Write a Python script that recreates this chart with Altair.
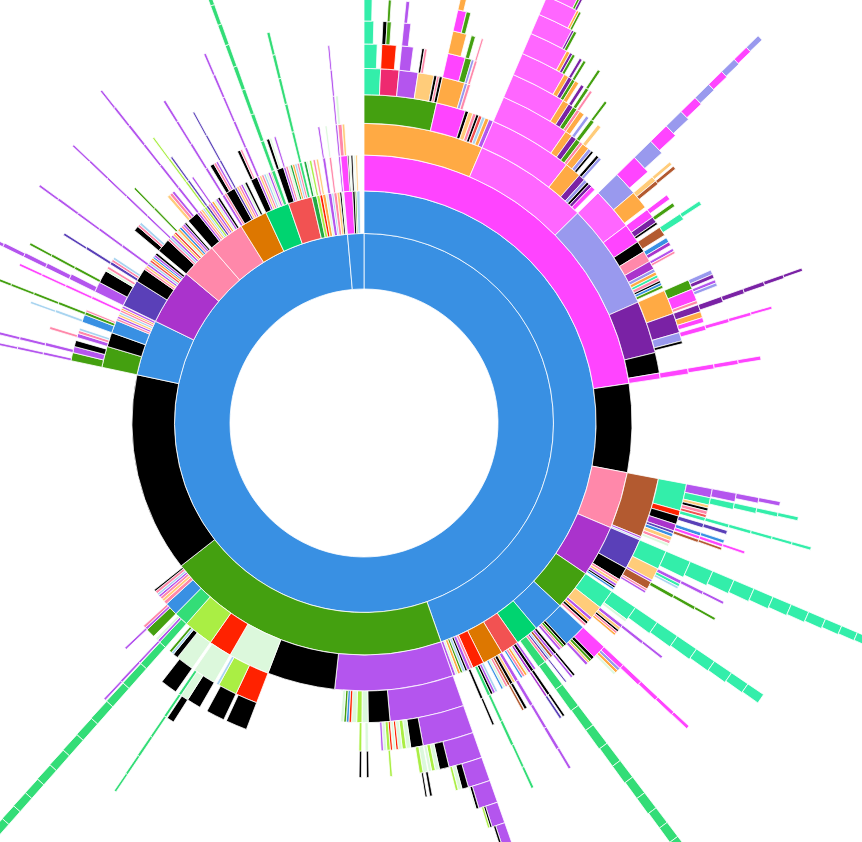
import altair as alt
import pandas as pd

# ---------------- colour categories ----------------
KINDS = ["blue", "magenta", "ltmag", "orange", "green", "black", "pink", "purple",
         "lavender", "dkpurple", "brown", "teal", "lilac", "ltgreen", "red", "ygreen",
         "sgreen", "obrown", "mgreen", "salmon", "indigo", "ltorange", "crimson",
         "ltblue", "dgreen"]
COLORS = ["#3990e3", "#ff44ff", "#ff66ff", "#ffaa44", "#44a010", "#000000", "#ff88aa", "#aa33cc",
          "#9999ee", "#7a22a5", "#b35a30", "#33eeaa", "#b455ee", "#dcf8dc", "#ff2200", "#aaee44",
          "#33dd77", "#dd7700", "#00d470", "#f25252", "#5a40b8", "#ffcc7a", "#ee2a70",
          "#a8d4f0", "#22aa44"]

# ---------------- long spikes (inner ring -> outer ring), size in degrees ----------------
teal_top = [("teal", 2.7), ("teal", 2.0), ("teal", 1.4), ("teal", 1.1), ("teal", 0.9), ("teal", 0.8)]
lav_spike = [("lavender", 4.0), ("magenta", 3.0), ("lavender", 2.3), ("magenta", 1.8), ("lavender", 1.4),
             ("magenta", 1.1), ("lavender", 0.95), ("magenta", 0.85), ("lavender", 0.75), ("magenta", 0.65),
             ("lavender", 0.6)]
dkp_line = [("dkpurple", 1.2), ("dkpurple", 0.9), ("dkpurple", 0.7), ("dkpurple", 0.6), ("dkpurple", 0.5),
            ("dkpurple", 0.4)]
mag_line_75 = [("magenta", 0.8), ("magenta", 0.6), ("magenta", 0.5), ("magenta", 0.4)]
mag_line_80 = [("magenta", 1.0), ("magenta", 0.8), ("magenta", 0.7), ("magenta", 0.6)]
lilac_105 = [("lilac", 1.5), ("lilac", 1.3), ("lilac", 0.8), ("lilac", 0.6)]
teal_105 = [("teal", 1.2), ("teal", 1.0), ("teal", 0.8), ("teal", 0.6), ("teal", 0.5)]
teal_line_105 = [("teal", 0.6), ("teal", 0.55), ("teal", 0.5), ("teal", 0.45), ("teal", 0.4), ("teal", 0.4)]
teal_113 = [("teal", 3.4), ("teal", 2.8), ("teal", 2.4), ("teal", 2.1), ("teal", 1.9), ("teal", 1.7),
            ("teal", 1.5), ("teal", 1.35), ("teal", 1.2), ("teal", 1.05), ("teal", 0.95), ("teal", 0.9),
            ("teal", 0.85)]
teal_125 = [("teal", 2.6), ("teal", 2.2), ("teal", 2.0), ("teal", 1.8), ("teal", 1.6), ("teal", 1.5),
            ("teal", 1.3), ("teal", 1.2)]
mag_line_133 = [("magenta", 0.8), ("magenta", 0.7), ("magenta", 0.6), ("magenta", 0.5), ("magenta", 0.45)]
green_br = [("sgreen", 1.6), ("sgreen", 1.5), ("sgreen", 1.5), ("sgreen", 1.4), ("sgreen", 1.4),
            ("sgreen", 1.3), ("sgreen", 1.3), ("sgreen", 1.2), ("sgreen", 1.2), ("sgreen", 1.1),
            ("sgreen", 1.1), ("sgreen", 1.0), ("sgreen", 1.0)]
green_bl = [("sgreen", 1.5), ("sgreen", 1.4), ("sgreen", 1.35), ("sgreen", 1.3), ("sgreen", 1.25),
            ("sgreen", 1.2), ("sgreen", 1.15), ("sgreen", 1.1), ("sgreen", 1.05), ("sgreen", 1.0),
            ("sgreen", 0.98), ("sgreen", 0.95), ("sgreen", 0.92), ("sgreen", 0.9), ("sgreen", 0.88)]
green_tl1 = [("sgreen", 0.75), ("sgreen", 0.7), ("sgreen", 0.7), ("sgreen", 0.65), ("sgreen", 0.65),
             ("sgreen", 0.6), ("sgreen", 0.6), ("sgreen", 0.55), ("sgreen", 0.55), ("sgreen", 0.5)]
green_tl2 = [("sgreen", 0.6), ("sgreen", 0.55), ("sgreen", 0.55), ("sgreen", 0.5), ("sgreen", 0.5),
             ("sgreen", 0.45)]
lilac_line_a = [("lilac", 0.5), ("lilac", 0.45), ("lilac", 0.4), ("lilac", 0.4), ("lilac", 0.35)]
lilac_line_b = [("lilac", 0.4), ("lilac", 0.4), ("lilac", 0.35), ("lilac", 0.35), ("lilac", 0.3)]
green_line_213 = [("sgreen", 0.5), ("sgreen", 0.45), ("sgreen", 0.4), ("sgreen", 0.4), ("sgreen", 0.35),
                  ("sgreen", 0.3)]


def spike(seq):
    kind, size = seq[0]
    if len(seq) == 1:
        return (kind, size)
    return (kind, size, [spike(seq[1:])])


def fan(levels):
    first = levels[0]
    head = first[0]
    rest = list(first[1:])
    if len(levels) > 1:
        head = (head[0], head[1], fan(levels[1:]))
    return [head] + rest


# ---------------- fans (one list per ring, first entry continues outward) ----------------
mag_fan_levels = [
    [("ltmag", 14.9), ("orange", 2.9, [("orange", 1.2, [("ltorange", 0.6)]), ("lavender", 0.6), ("black", 0.4)]),
     ("dkpurple", 1.2, [("black", 0.5), ("lavender", 0.5)]), ("lavender", 0.6), ("black", 0.5),
     ("dkpurple", 0.6), ("magenta", 0.8)],
    [("ltmag", 11.5), ("orange", 1.2, [("orange", 0.8)]), ("dkpurple", 0.9, [("lavender", 0.5)]),
     ("green", 0.8, [("green", 0.6, [("green", 0.4)])]), ("pink", 0.5)],
    [("ltmag", 8.5), ("orange", 1.0, [("orange", 0.6)]), ("dkpurple", 0.8, [("dkpurple", 0.5)]),
     ("green", 0.7, [("green", 0.5, [("green", 0.4)])]), ("pink", 0.5, [("pink", 0.4)])],
    [("ltmag", 6.7), ("orange", 0.7), ("dkpurple", 0.6, [("dkpurple", 0.4)]), ("green", 0.5, [("green", 0.4)])],
    [("ltmag", 5.4), ("orange", 0.5), ("dkpurple", 0.4), ("green", 0.4)],
    [("ltmag", 4.7), ("dkpurple", 0.3), ("green", 0.4)],
    [("ltmag", 4.1), ("orange", 0.3), ("green", 0.3)],
    [("ltmag", 3.5), ("green", 0.3), ("dkpurple", 0.3)],
    [("ltmag", 3.1), ("orange", 0.4)],
    [("ltmag", 2.8), ("green", 0.3)],
    [("ltmag", 2.5)],
]
lilac_fan_levels = [
    [("lilac", 14.4),
     ("black", 4.2, [("red", 0.4), ("ygreen", 0.6, [("ygreen", 0.4)]), ("ltgreen", 0.6), ("lilac", 0.4)]),
     ("ltgreen", 1.2, [("ltgreen", 0.6, [("black", 0.4)])]), ("ygreen", 1.0, [("ygreen", 0.5, [("black", 0.4)])]),
     ("ltgreen", 1.0), ("red", 0.5), ("blue", 0.5), ("green", 0.5), ("ltgreen", 0.6)],
    [("lilac", 9.0), ("black", 2.2, [("ltgreen", 0.8, [("black", 0.4)]), ("ygreen", 0.6, [("black", 0.3)])]),
     ("ltgreen", 0.8), ("ygreen", 0.7), ("ltgreen", 0.7), ("red", 0.4), ("ltgreen", 0.5)],
    [("lilac", 5.5), ("black", 1.6), ("ltgreen", 0.7), ("ygreen", 0.6), ("ltgreen", 0.5)],
    [("lilac", 3.4), ("black", 1.0), ("ltgreen", 0.6), ("ygreen", 0.4)],
    [("lilac", 2.8), ("black", 0.4), ("ltgreen", 0.2)],
    [("lilac", 1.8), ("black", 0.3), ("ygreen", 0.3)],
    [("lilac", 1.3), ("black", 0.3)],
    [("lilac", 1.1)],
    [("lilac", 1.0)],
    [("lilac", 0.9)],
]

# ---------------- branches: (kind, size in degrees, [children]) ----------------
top_orange = ("orange", 23.2, [
    ("green", 12.8, [
        spike(teal_top),
        ("crimson", 3.0, [("red", 2.2, [("black", 0.6), ("green", 0.6, [("green", 0.4)])])]),
        ("lilac", 3.1, [("lilac", 1.8, [("lilac", 1.0, [("lilac", 0.5)])])]),
        ("ltorange", 2.6, [("black", 0.4), ("pink", 0.4)]),
        ("black", 0.5), ("pink", 0.4), ("black", 0.5)]),
    ("magenta", 5.2, [
        ("orange", 3.7, [("magenta", 2.7, [("orange", 2.0, [("magenta", 1.2, [("orange", 0.8)]), ("green", 0.6)])]),
                         ("green", 1.0, [("green", 0.6)])]),
        ("lavender", 0.5, [("lavender", 0.4)]),
        ("pink", 0.5, [("pink", 0.4, [("pink", 0.3)])])]),
    ("black", 0.6), ("ltorange", 0.8), ("pink", 0.6), ("black", 0.5), ("salmon", 0.6), ("ltblue", 0.6),
    ("orange", 0.7), ("lilac", 0.8)])

lav_r = ("lavender", 20.7, [
    ("ltmag", 7.5, [spike(lav_spike),
                    ("orange", 3.0, [("ltorange", 0.8, [("ltorange", 0.5)]), ("brown", 0.6, [("brown", 0.5)])])]),
    ("magenta", 3.5, [("magenta", 1.5, [("magenta", 0.8)]), ("dkpurple", 1.0, [("green", 0.6)]), ("black", 0.4)]),
    ("black", 2.0, [("brown", 1.5, [("teal", 1.0, [("teal", 0.6)])])]),
    ("pink", 2.0, [("blue", 0.8), ("purple", 0.6)]),
    ("purple", 1.5, [("lilac", 0.5), ("pink", 0.4)]),
    ("lavender", 0.6), ("orange", 0.6), ("teal", 0.5), ("pink", 0.6), ("black", 0.4), ("blue", 0.5),
    ("green", 0.5)])

dkp_r = ("dkpurple", 10.2, [
    ("orange", 4.3, [("green", 1.6, [("lavender", 0.7), ("dkpurple", 0.6)]),
                     ("magenta", 2.0, [("lilac", 0.5), ("lavender", 0.5)]), ("pink", 0.5)]),
    ("dkpurple", 3.5, [spike(dkp_line), ("orange", 1.0), ("magenta", 0.8)]),
    ("lavender", 1.5, [spike(mag_line_75)]),
    ("black", 0.5)])

top_magenta = ("magenta", 81.5, [top_orange, ("ltmag", 22.3, fan(mag_fan_levels)), lav_r, dkp_r,
                                 ("black", 4.0), ("magenta", 1.1, [spike(mag_line_80)])])

pink_r = ("pink", 12.3, [
    ("brown", 11.6, [
        ("teal", 4.8, [spike(lilac_105), spike(teal_105), ("ltorange", 0.5), ("black", 0.5), ("pink", 0.6),
                       ("salmon", 0.5)]),
        ("red", 1.0, [spike(teal_line_105)]),
        ("black", 1.5, [("indigo", 0.7, [("indigo", 0.6)])]),
        ("purple", 1.2, [("blue", 0.6, [("blue", 0.5)]), ("magenta", 0.5, [("magenta", 0.5, [("magenta", 0.4)])])]),
        ("indigo", 0.5, [("brown", 0.5, [("brown", 0.4)])]),
        ("blue", 0.6), ("ltorange", 0.7), ("pink", 0.6), ("ltgreen", 0.5)]),
    ("lilac", 0.4), ("ltblue", 0.3)])

purple_r = ("purple", 11.2, [
    ("indigo", 6.0, [spike(teal_113),
                     ("ltorange", 2.2, [spike([("lilac", 0.6), ("lilac", 0.5), ("lilac", 0.4)]), ("teal", 0.5),
                                        ("ltblue", 0.4)]),
                     ("lilac", 0.4)]),
    ("black", 2.5, [("brown", 1.4, [spike([("green", 0.6), ("green", 0.5), ("green", 0.4)])]), ("pink", 0.4),
                    ("lilac", 0.4)]),
    ("pink", 0.5), ("ltorange", 0.5), ("lilac", 0.5), ("black", 0.4), ("blue", 0.4)])

green_r = ("green", 8.8, [
    ("teal", 3.8, [spike(teal_125), ("ltgreen", 0.5)]),
    ("ltorange", 2.5, [spike([("lilac", 0.6), ("lilac", 0.5), ("lilac", 0.4)]), ("ltorange", 0.5), ("black", 0.4),
                       ("pink", 0.4), ("orange", 0.4)]),
    ("lilac", 0.6), ("orange", 0.5), ("black", 0.5), ("pink", 0.5)])

blue_r = ("blue", 7.0, [
    ("blue", 4.5, [("magenta", 2.5, [spike(mag_line_133), ("lavender", 0.5), ("orange", 0.5), ("ltgreen", 0.4)]),
                   ("black", 0.6), ("green", 0.5), ("ltorange", 0.4), ("lilac", 0.5)]),
    ("black", 0.5), ("green", 0.5), ("pink", 0.4), ("lilac", 0.5)])

mgreen_r = ("mgreen", 5.0, [
    ("black", 0.5, [("black", 0.4)]), ("lilac", 0.5, [("lilac", 0.4)]), ("brown", 0.5), ("ltblue", 0.4),
    ("indigo", 0.4, [("indigo", 0.3)]), ("pink", 0.5), spike(green_br)])

salmon_r = ("salmon", 4.0, [
    ("lilac", 0.5), ("black", 0.6, [("black", 0.5, [("black", 0.4)])]),
    ("purple", 0.5, [("purple", 0.4, [("indigo", 0.4)])]), ("ltgreen", 0.4), ("orange", 0.5), ("pink", 0.5),
    ("blue", 0.4)])

obrown_r = ("obrown", 4.5, [
    spike([("lilac", 0.7), ("lilac", 0.6), ("lilac", 0.5), ("lilac", 0.5), ("lilac", 0.4)]),
    ("ltorange", 0.5), ("black", 0.6, [("black", 0.5)]), ("brown", 0.5, [("brown", 0.4)]), ("pink", 0.5),
    ("ltgreen", 0.5), ("blue", 0.4)])

red_r = ("red", 2.5, [("ltblue", 0.5), ("lilac", 0.5), ("black", 0.5),
                      spike([("sgreen", 0.6), ("sgreen", 0.5), ("sgreen", 0.5), ("sgreen", 0.4), ("sgreen", 0.4)])])

right_blue = ("blue", 160.6, [
    top_magenta, ("black", 19.2), pink_r, purple_r, green_r, blue_r, mgreen_r, salmon_r, obrown_r, red_r,
    ("pink", 0.6), ("lilac", 0.7, [("black", 0.5, [("black", 0.4)])]), ("black", 0.5), ("ltblue", 0.6),
    ("green", 0.5), ("orange", 0.6), ("ltgreen", 0.5), ("lilac", 0.6)])

bottom_green = ("green", 71.4, [
    ("lilac", 25.7, fan(lilac_fan_levels)),
    ("black", 14.7),
    ("ltgreen", 9.0, [("red", 4.3, [("black", 3.8)]), ("ygreen", 3.7, [("black", 3.3)]), ("ltblue", 0.5)]),
    ("red", 5.0, [("ltgreen", 4.5, [("black", 2.5), ("ltgreen", 1.4, [("black", 1.2)]), spike(green_line_213)])]),
    ("ygreen", 6.5, [("ltgreen", 3.5, [("black", 3.0)]), ("black", 1.0), ("ltblue", 0.5), ("green", 0.5)]),
    ("sgreen", 3.1, [spike(green_bl), ("lilac", 0.5, [spike([("lilac", 0.4), ("lilac", 0.4), ("lilac", 0.35)])]),
                     ("ltgreen", 0.5)]),
    ("blue", 2.9, [("green", 1.8), ("lilac", 0.5, [("lilac", 0.4)]), ("pink", 0.5)]),
    ("pink", 0.8), ("ltorange", 0.6), ("pink", 0.6), ("lilac", 0.5), ("ltblue", 0.5), ("pink", 0.6),
    ("black", 0.4)])

left_blue = ("blue", 14.0, [
    ("green", 4.6, [("green", 1.6, [spike([("lilac", 0.5), ("lilac", 0.45), ("lilac", 0.4), ("lilac", 0.4)])]),
                    ("lilac", 1.2, [spike([("lilac", 0.6), ("lilac", 0.5), ("lilac", 0.45), ("lilac", 0.4)])]),
                    ("black", 1.2)]),
    ("black", 3.1, [("lilac", 0.8, [("pink", 0.5)]), ("pink", 0.6), ("ltblue", 0.5)]),
    ("blue", 2.8, [("blue", 1.5, [("ltblue", 0.5, [("ltblue", 0.4)])]),
                   ("green", 0.6, [spike([("green", 0.5), ("green", 0.45), ("green", 0.4), ("green", 0.4)])]),
                   ("pink", 0.4)]),
    ("pink", 0.5), ("lilac", 0.5), ("ltorange", 0.5), ("ltblue", 0.5),
    ("pink", 0.5, [spike([("magenta", 0.5), ("magenta", 0.45), ("magenta", 0.4), ("magenta", 0.4)])]),
    ("orange", 0.4), ("lilac", 0.5)])

left_purple = ("purple", 14.0, [
    ("indigo", 6.0, [("lilac", 2.0, [spike([("lilac", 1.0), ("lilac", 0.8), ("lilac", 0.7), ("lilac", 0.6),
                                            ("lilac", 0.5)])]),
                     ("black", 2.5, [spike([("green", 0.5), ("green", 0.45), ("green", 0.4)])]),
                     ("ltgreen", 0.5), ("pink", 0.5)]),
    ("black", 3.0, [("indigo", 0.6, [spike([("indigo", 0.5), ("indigo", 0.4)])]), ("pink", 0.5), ("ltblue", 0.5)]),
    ("pink", 0.5), ("ltorange", 0.5), ("lilac", 0.5, [spike(lilac_line_a)]), ("ltblue", 0.5), ("salmon", 0.5),
    ("orange", 0.5), ("blue", 0.4), ("lilac", 0.5), ("black", 0.5)])

left_pink1 = ("pink", 9.0, [
    ("black", 3.0, [("black", 1.0), ("pink", 0.5), ("ltblue", 0.5)]), ("pink", 0.5),
    ("ltblue", 0.5, [spike(lilac_line_b)]), ("lilac", 0.5), ("ltorange", 0.5), ("salmon", 0.5),
    ("ltgreen", 0.5, [spike([("green", 0.4), ("green", 0.35)])]), ("orange", 0.5), ("blue", 0.5), ("pink", 0.5),
    ("lilac", 0.5), ("black", 0.4)])

left_pink2 = ("pink", 9.0, [
    ("black", 2.5, [("ltorange", 0.6), ("pink", 0.6), ("lilac", 0.5)]),
    ("lilac", 0.5, [spike([("lilac", 0.5), ("lilac", 0.45), ("lilac", 0.4), ("lilac", 0.4), ("lilac", 0.35),
                           ("lilac", 0.3)])]),
    ("pink", 0.5), ("ltorange", 0.5), ("ltblue", 0.4),
    ("ygreen", 0.5, [spike([("ygreen", 0.4), ("ygreen", 0.35), ("ygreen", 0.3)])]),
    ("indigo", 0.5, [spike([("indigo", 0.4), ("indigo", 0.35)])]), ("pink", 0.5),
    ("lilac", 0.5, [("lilac", 0.4)]), ("orange", 0.5), ("ltgreen", 0.5), ("lilac", 0.5), ("black", 0.5)])

left_obrown = ("obrown", 7.0, [
    spike([("lilac", 0.6), ("lilac", 0.5), ("lilac", 0.45), ("lilac", 0.4), ("lilac", 0.4)]), ("pink", 0.5),
    ("black", 2.0, [("black", 0.8), ("pink", 0.5), ("lilac", 0.4)]),
    ("indigo", 0.5, [spike([("indigo", 0.4), ("indigo", 0.35), ("indigo", 0.3)])]),
    ("ltorange", 0.5), ("pink", 0.5), ("lilac", 0.5), ("ltgreen", 0.5), ("black", 0.5)])

left_mgreen = ("mgreen", 6.0, [
    ("black", 1.5, [("black", 0.6), ("pink", 0.4)]), ("lilac", 0.5, [spike(lilac_line_a)]), ("ltorange", 0.5),
    ("pink", 0.5), ("ltblue", 0.5), ("ltgreen", 0.5), ("lilac", 0.5), ("pink", 0.3), spike(green_tl1)])

left_salmon = ("salmon", 6.0, [
    ("black", 1.5, [("black", 0.6), ("ltgreen", 0.4)]), ("lilac", 0.5, [("lilac", 0.4)]), ("pink", 0.5),
    ("ltgreen", 0.5), ("dgreen", 0.5), ("orange", 0.5), ("ltblue", 0.5), ("pink", 0.5), spike(green_tl2)])

top_slivers = [
    ("dgreen", 1.2, [("dgreen", 0.6), ("ltgreen", 0.4)]), ("ygreen", 0.8, [("ygreen", 0.5)]),
    ("red", 0.7, [("pink", 0.5)]), ("orange", 0.8, [("ltorange", 0.5)]), ("ltgreen", 0.6),
    ("lilac", 0.9, [("lilac", 0.6, [("lilac", 0.4)])]), ("ltblue", 0.5),
    ("pink", 0.8, [("pink", 0.5, [("ltgreen", 0.4)])]), ("ltorange", 0.7), ("black", 0.5),
    ("ltgreen", 0.5, [spike(lilac_line_b)])]

small_blue = ("blue", 5.0, [
    ("magenta", 2.2, [("magenta", 1.5, [("pink", 0.8, [("ltgreen", 0.5)]), ("ltorange", 0.5)]), ("black", 0.3),
                      ("ltgreen", 0.3)]),
    ("black", 0.6, [("black", 0.4)]), ("green", 0.4, [("ltgreen", 0.3)]), ("ltblue", 0.8, [("ltorange", 0.4)])])

big_blue = ("blue", 355.0, [right_blue, bottom_green, ("black", 50.0), left_blue, left_purple, left_pink1,
                            left_pink2, left_obrown, left_mgreen, left_salmon] + top_slivers)

ROOT = [big_blue, small_blue]

# ---------------- partition layout ----------------
rows = []


def place(node, start, depth):
    kind, size = node[0], node[1]
    kids = node[2] if len(node) > 2 else []
    rows.append({"kind": kind, "t0": start, "t1": start + size, "r0": depth, "r1": depth + 1})
    cur = start
    for k in kids:
        place(k, cur, depth + 1)
        cur += k[1]


cursor = 0.0
for n in ROOT:
    place(n, cursor, 1)
    cursor += n[1]

df = pd.DataFrame(rows)

chart = alt.Chart(df, width=862, height=842, padding=0, autosize="none").mark_arc(
    stroke="white", strokeWidth=0.8, clip=True
).encode(
    x=alt.value(364),
    y=alt.value(423),
    theta=alt.Theta("t0:Q", scale=alt.Scale(domain=[0, 360], range=[0, 6.283185307179586])),
    theta2="t1:Q",
    radius=alt.Radius("r0:Q", scale=alt.Scale(type="sqrt", domain=[0, 25], range=[0, 670], zero=True)),
    radius2="r1:Q",
    color=alt.Color("kind:N", scale=alt.Scale(domain=KINDS, range=COLORS), legend=None),
).configure_view(stroke="transparent")

chart.save("out.html", embed_options={"renderer": "svg", "actions": False})
